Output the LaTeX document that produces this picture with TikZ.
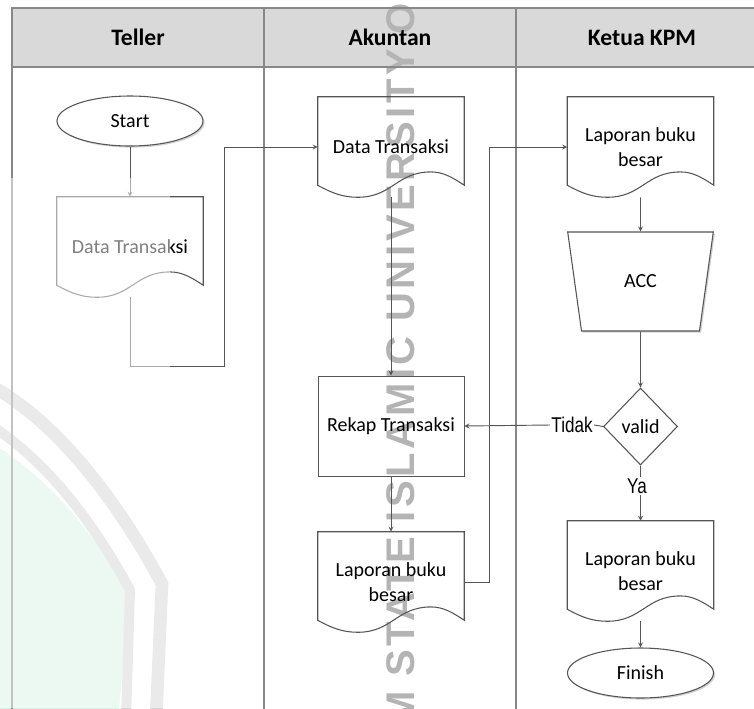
\documentclass[tikz,border=0pt]{standalone}
\usepackage{fontspec}
\setmainfont{Carlito}
\newfontfamily\markfont{Liberation Sans}[LetterSpace=9]
\newfontfamily\labelfont{Liberation Sans}[FakeStretch=0.8]
\usetikzlibrary{shapes.geometric,shadows}
\definecolor{linegray}{HTML}{555555}
\definecolor{lanegray}{HTML}{888888}
\definecolor{headfill}{HTML}{D9D9D9}
\definecolor{markgray}{HTML}{B4B4B4}
\tikzset{
  lanehead/.style={draw=lanegray, line width=0.9pt, minimum width=189pt, minimum height=44.25pt, inner sep=0pt, text height=15pt, text depth=3pt, font=\fontsize{17.7}{20}\selectfont\bfseries},
  lanebody/.style={draw=lanegray, line width=0.9pt, minimum width=189pt, minimum height=487.5pt},
  flow/.style={draw=linegray, line width=0.8pt, font=\fontsize{15}{18.75}\selectfont, text=black, align=center, inner sep=0pt},
  doctext/.style={font=\fontsize{15}{18.75}\selectfont, align=center, inner sep=0pt, minimum width=109.5pt, minimum height=75pt},
  terminal/.style={flow, ellipse, minimum width=109.5pt, minimum height=37.5pt, fill=white, drop shadow={shadow xshift=1.2pt, shadow yshift=-1.2pt, opacity=0.35}},
  conn/.style={draw=linegray, line width=0.7pt, >=stealth},
  branch/.style={font=\labelfont\fontsize{16}{18}\selectfont, fill=white, inner sep=1pt}
}
\newcommand{\docshape}[3]{
  \node[doctext] (#1) at (#2) {#3};
  \draw[flow] (#1.north west) -- ([yshift=9pt]#1.south west)
    .. controls +(11pt,-6pt) and +(-11pt,0pt) .. ([xshift=30pt]#1.south west)
    .. controls +(26pt,0pt) and +(-26pt,0pt) .. ([xshift=85pt,yshift=19pt]#1.south west)
    .. controls +(9pt,0pt) and +(-9pt,6pt) .. ([yshift=9pt]#1.south east)
    -- (#1.north east) -- cycle;
}
\begin{document}
\begin{tikzpicture}[x=0.75pt,y=-0.75pt]
\useasboundingbox (0,0) rectangle (754,708);
\clip (0,0) rectangle (754,708);

\fill[headfill] (12,8) rectangle (754,67);
\node[rotate=90, anchor=base west, inner sep=0pt, text=markgray, font=\markfont\bfseries\fontsize{30}{36}\selectfont] (mark) at (414,725) {M STATE ISLAMIC UNIVERSITY OF};

\fill[green!30!teal!15] (-5,445) .. controls (50,480) and (90,530) .. (130,592) -- (118,720) -- (-5,720) -- cycle;
\draw[line width=7.5pt, black!16] (-5,428) .. controls (50,465) and (95,525) .. (130,590) -- (126,720);
\draw[line width=9.5pt, black!16] (-5,388) .. controls (60,425) and (120,505) .. (162,584) -- (156,720);

\foreach \name/\title/\x in {teller/Teller/138,akuntan/Akuntan/390,ketua/Ketua KPM/642}{
  \node[lanehead] (\name) at (\x,37.5) {\title};
  \node[lanebody] (\name body) at (\x,392) {};
}

\node[terminal] (start) at (130,121) {Start};
\docshape{data1}{130,247}{Data Transaksi}
\docshape{data2}{391,147}{Data Transaksi}
\node[flow, line width=0.6pt, minimum width=109.5pt, minimum height=75pt] (rekap) at (391,426) {Rekap Transaksi};
\docshape{lap1}{391,582}{Laporan buku\\besar}
\docshape{lap2}{640.5,147}{Laporan buku\\besar}
\node[flow, trapezium, shape border rotate=180, trapezium angle=73.7, trapezium stretches=true, minimum width=109.5pt, minimum height=74.25pt, fill=white, drop shadow={shadow xshift=1.2pt, shadow yshift=-1.2pt, opacity=0.35}] (acc) at (640.5,281.5) {ACC};
\node[flow, diamond, aspect=1, minimum width=55.5pt, minimum height=57.75pt] (valid) at (640.5,426.5) {valid};
\docshape{lap3}{640.5,571}{Laporan buku\\besar}
\node[terminal] (finish) at (640.5,673) {Finish};

\node[branch] (tidak) at (572,425) {Tidak};
\node[branch] (ya) at (637,486) {Ya};

\coordinate (bendA) at (224,366);
\coordinate (bendB) at (489,147);

\draw[conn,->] (start) -- (data1);
\draw[conn,->] (data1.south) |- (bendA) |- (data2.west);
\draw[conn,->] (data2.south) -- (rekap.north);
\draw[conn,->] (rekap.south) -- (lap1.north);
\draw[conn,->] (lap1.east) -| (bendB) -- (lap2.west);
\draw[conn,->] (lap2.south) -- (acc.north);
\draw[conn,->] (acc.south) -- (valid.north);
\draw[conn] (valid.west) -- (tidak.east);
\draw[conn,->] (tidak.west) -- (rekap.east);
\draw[conn] (valid.south) -- (ya.north -| valid.south);
\draw[conn,->] (ya.south -| lap3.north) -- (lap3.north);
\draw[conn,->] (lap3.south) -- (finish.north);

\fill[white, opacity=0.5] (0,178) rectangle (170,708);
\end{tikzpicture}
\end{document}
